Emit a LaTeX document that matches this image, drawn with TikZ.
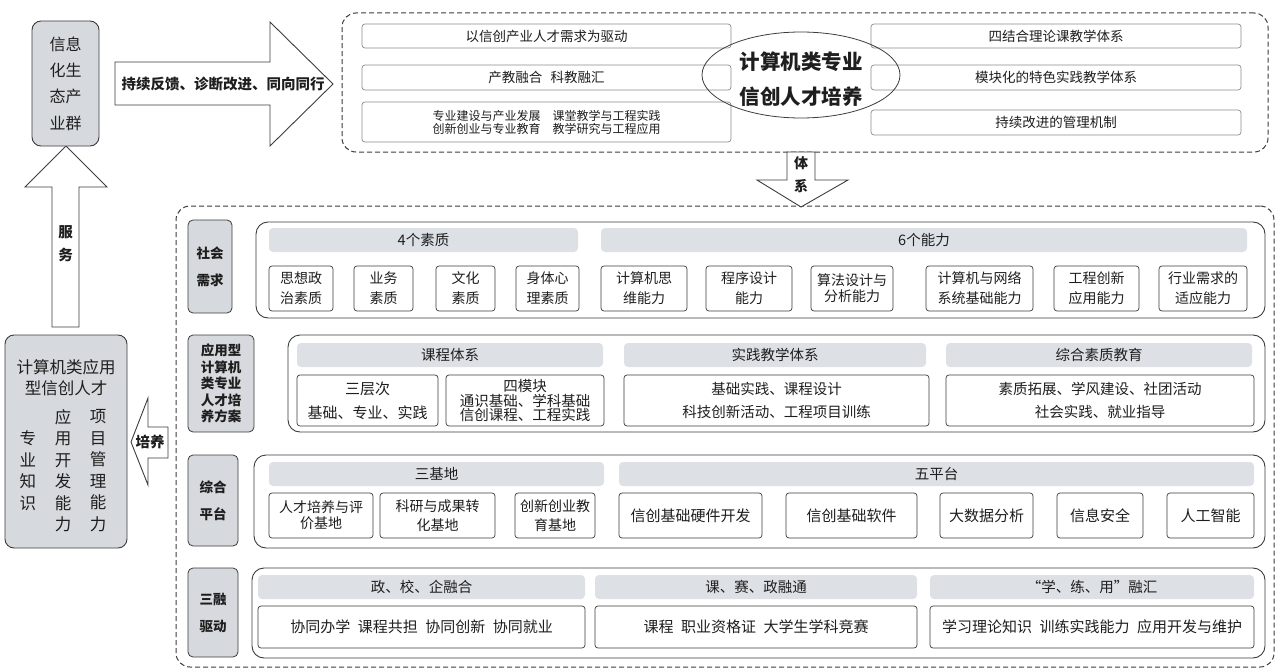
\documentclass[tikz,border=0pt]{standalone}
\usepackage{fontspec}
\setmainfont{Noto Sans CJK SC}
\usetikzlibrary{shapes.geometric}
\definecolor{lg}{HTML}{D6D9DD}
\definecolor{barg}{HTML}{DDE1E6}
\definecolor{ln}{HTML}{3C3C3C}
\definecolor{txt}{HTML}{1E1E1E}
\newcommand\bx[7]{\node[#6,minimum width={(#4)-(#2)},minimum height={(#5)-(#3)}] (#1) at ({((#2)+(#4))/2},{((#3)+(#5))/2}) {#7};}
\newcommand\fs[2]{\fontsize{#1}{#2}\selectfont}
\begin{document}
\begin{tikzpicture}[x=1pt,y=-1pt,
  every node/.style={inner sep=0pt,outer sep=0pt,text=txt,align=center},
  dashbox/.style={draw=ln,line width=1pt,dash pattern=on 5pt off 3pt,rounded corners=14pt},
  lbl/.style={draw=ln,fill=lg,line width=0.8pt,rounded corners=5pt,font=\fs{13.5}{27}\bfseries},
  cont/.style={draw=ln,line width=0.9pt,rounded corners=12pt},
  bar/.style={fill=barg,rounded corners=4pt,font=\fs{14.5}{17}},
  itm/.style={draw=ln,fill=white,line width=0.7pt,rounded corners=3pt,font=\fs{14}{20}},
  tbox/.style={draw=black!45,fill=white,line width=0.7pt,rounded corners=3pt,font=\fs{13.5}{16}},
  barrow/.style={draw=ln,fill=white,line width=0.9pt,line join=miter},
  side/.style={draw=ln,fill=lg,line width=0.9pt,rounded corners=9pt}]
\useasboundingbox (0,0) rectangle (1278,669);

% ---------- dashed frames ----------
\bx{topframe}{342}{13}{1268}{152}{dashbox}{}
\bx{mainframe}{176}{206}{1274}{667}{dashbox}{}

% ---------- block arrows ----------
\draw[barrow] (115,62) -- (270,62) -- (270,22) -- (333,84) -- (270,146) -- (270,105) -- (115,105) -- cycle;
\node[font=\fs{14.5}{17}\bfseries] (fb) at (223,84) {持续反馈、诊断改进、同向同行};
\draw[barrow] (52,327) -- (52,187) -- (25,187) -- (66,146) -- (107,187) -- (79,187) -- (79,327) -- cycle;
\node[font=\fs{14.5}{23}\bfseries] (fw) at (65.5,244) {服\\务};
\draw[barrow] (168,427) -- (148,427) -- (148,398) -- (131,442) -- (148,485) -- (148,458) -- (168,458) -- cycle;
\node[font=\fs{14.5}{17}\bfseries] (py) at (150,442) {培养};
\draw[barrow] (787,152) -- (815,152) -- (815,180) -- (848,180) -- (801,207) -- (757,180) -- (787,180) -- cycle;
\node[font=\fs{14}{23}\bfseries] (tx) at (801,175) {体\\系};

% ---------- left side boxes ----------
\bx{chain}{32}{21}{99}{146}{side,font=\fs{16}{26.3}}{信息\\化生\\态产\\业群}
\bx{talent}{5}{335}{127}{548}{side}{}
\node[font=\fs{16.5}{21}] (tl) at (66,377.5) {计算机类应用\\型信创人才};
\node[font=\fs{16.5}{21.5}] (c1) at (28,470.5) {专\\业\\知\\识};
\node[font=\fs{16.5}{21.5}] (c2) at (63,470.5) {应\\用\\开\\发\\能\\力};
\node[font=\fs{16.5}{21.5}] (c3) at (98,470.5) {项\\目\\管\\理\\能\\力};

% ---------- top frame contents ----------
\bx{t1}{362}{24}{731}{48}{tbox}{以信创产业人才需求为驱动}
\bx{t2}{362}{65}{731}{90}{tbox}{产教融合\hspace{0.6em}科教融汇}
\bx{t3}{362}{102}{731}{142}{tbox,font=\fs{12}{13}}{专业建设与产业发展\hspace{1em}课堂教学与工程实践\\创新创业与专业教育\hspace{1em}教学研究与工程应用}
\bx{t4}{871}{24}{1241}{48}{tbox}{四结合理论课教学体系}
\bx{t5}{871}{65}{1241}{90}{tbox}{模块化的特色实践教学体系}
\bx{t6}{871}{110}{1241}{135}{tbox}{持续改进的管理机制}
\node[ellipse,draw=ln,line width=0.8pt,minimum width=198pt,minimum height=86pt] (core) at (801,75) {};
\node[font=\fs{20.5}{35}\bfseries] (coret) at (801,79) {计算机类专业\\信创人才培养};

% ---------- row 1 ----------
\bx{l1}{188}{220}{232}{313}{lbl}{社会\\需求}
\bx{r1}{256}{222}{1265}{318}{cont}{}
\bx{h11}{269}{228}{578}{252}{bar}{4个素质}
\bx{h12}{601}{228}{1247}{252}{bar}{6个能力}
\bx{a1}{269}{266}{333}{311}{itm}{思想政\\治素质}
\bx{a2}{354}{266}{413}{311}{itm}{业务\\素质}
\bx{a3}{436}{266}{495}{311}{itm}{文化\\素质}
\bx{a4}{516}{266}{579}{311}{itm}{身体心\\理素质}
\bx{a5}{601}{266}{687}{311}{itm}{计算机思\\维能力}
\bx{a6}{706}{266}{792}{311}{itm}{程序设计\\能力}
\bx{a7}{811}{266}{893}{311}{itm,font=\fs{14}{16}}{算法设计与\\分析能力}
\bx{a8}{926}{266}{1033}{311}{itm}{计算机与网络\\系统基础能力}
\bx{a9}{1054}{266}{1139}{311}{itm}{工程创新\\应用能力}
\bx{a10}{1159}{266}{1247}{311}{itm}{行业需求的\\适应能力}

% ---------- row 2 ----------
\bx{l2}{188}{335}{254}{432}{lbl,font=\fs{13.5}{16.6}\bfseries}{应用型\\计算机\\类专业\\人才培\\养方案}
\bx{r2}{288}{335}{1265}{432}{cont}{}
\bx{h21}{297}{343}{603}{367}{bar}{课程体系}
\bx{h22}{624}{343}{926}{367}{bar}{实践教学体系}
\bx{h23}{946}{343}{1252}{367}{bar}{综合素质教育}
\bx{b1}{297}{375}{438}{426}{itm,font=\fs{15}{24}}{三层次\\基础、专业、实践}
\bx{b2}{446}{375}{604}{426}{itm,font=\fs{14.5}{13}}{四模块\\通识基础、学科基础\\信创课程、工程实践}
\bx{b3}{624}{375}{929}{426}{itm,font=\fs{14.5}{23}}{基础实践、课程设计\\科技创新活动、工程项目训练}
\bx{b4}{946}{375}{1254}{426}{itm,font=\fs{14.5}{23}}{素质拓展、学风建设、社团活动\\社会实践、就业指导}

% ---------- row 3 ----------
\bx{l3}{188}{455}{238}{546}{lbl}{综合\\平台}
\bx{r3}{254}{455}{1265}{548}{cont}{}
\bx{h31}{269}{462}{604}{486}{bar}{三基地}
\bx{h32}{619}{462}{1254}{486}{bar}{五平台}
\bx{c31}{269}{493}{373}{538}{itm,font=\fs{14}{16}}{人才培养与评\\价基地}
\bx{c32}{380}{493}{495}{538}{itm,font=\fs{14}{19}}{科研与成果转\\化基地}
\bx{c33}{515}{493}{595}{538}{itm,font=\fs{14}{19}}{创新创业教\\育基地}
\bx{c34}{619}{493}{762}{538}{itm,font=\fs{15}{18}}{信创基础硬件开发}
\bx{c35}{786}{493}{917}{538}{itm,font=\fs{15}{18}}{信创基础软件}
\bx{c36}{940}{493}{1033}{538}{itm,font=\fs{15}{18}}{大数据分析}
\bx{c37}{1057}{493}{1143}{538}{itm,font=\fs{15}{18}}{信息安全}
\bx{c38}{1167}{493}{1254}{538}{itm,font=\fs{15}{18}}{人工智能}

% ---------- row 4 ----------
\bx{l4}{188}{568}{238}{657}{lbl}{三融\\驱动}
\bx{r4}{252}{568}{1265}{658}{cont}{}
\bx{h41}{258}{575}{585}{599}{bar}{政、校、企融合}
\bx{h42}{595}{575}{917}{599}{bar}{课、赛、政融通}
\bx{h43}{930}{575}{1254}{599}{bar}{“学、练、用”融汇}
\bx{d1}{258}{606}{585}{648}{itm,font=\fs{15}{18}}{协同办学\hspace{0.5em}课程共担\hspace{0.5em}协同创新\hspace{0.5em}协同就业}
\bx{d2}{595}{606}{917}{648}{itm,font=\fs{15}{18}}{课程\hspace{0.5em}职业资格证\hspace{0.5em}大学生学科竞赛}
\bx{d3}{930}{606}{1254}{648}{itm,font=\fs{15}{18}}{学习理论知识\hspace{0.5em}训练实践能力\hspace{0.5em}应用开发与维护}
\end{tikzpicture}
\end{document}
